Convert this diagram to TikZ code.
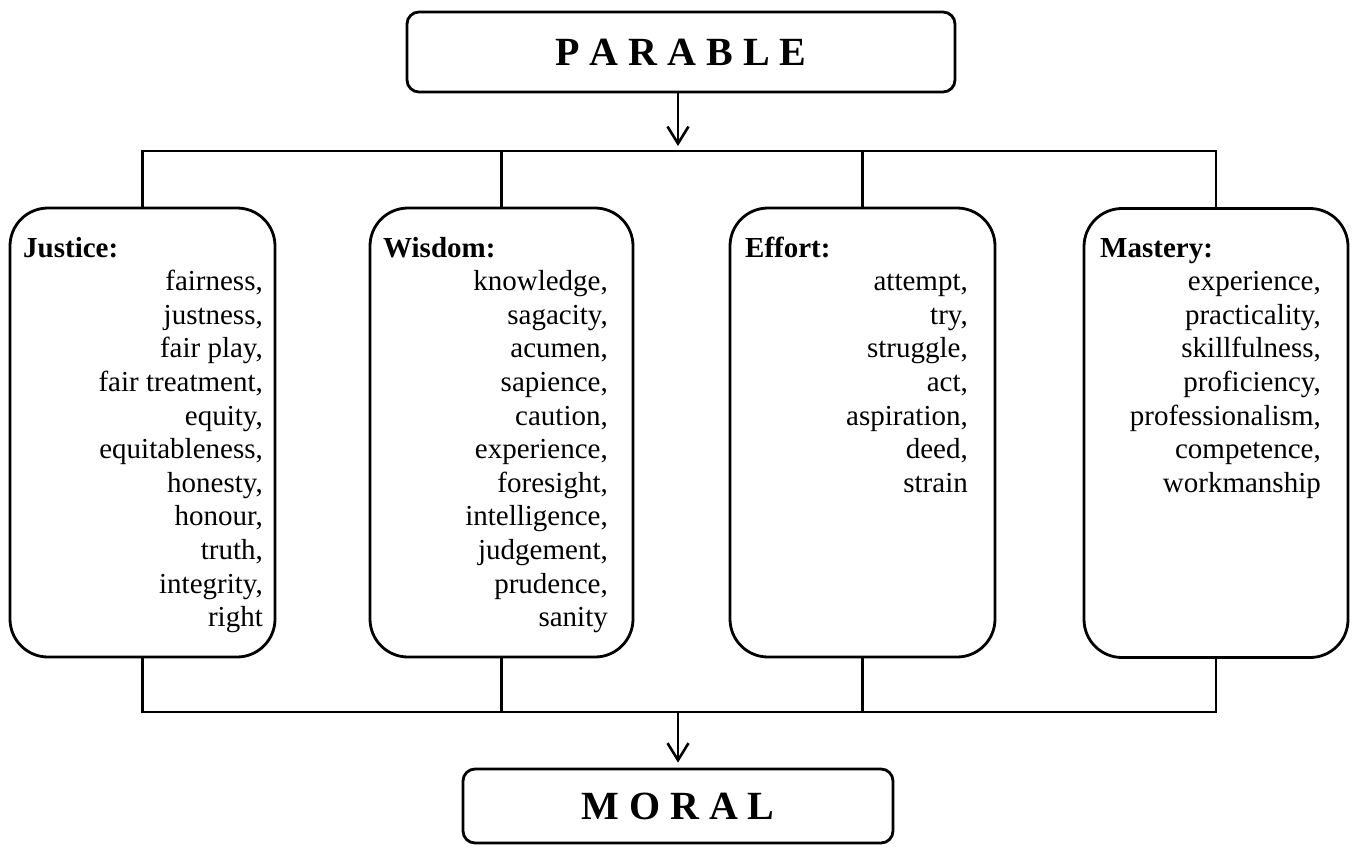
\documentclass[tikz,border=0pt]{standalone}
\usepackage{fontspec}
\setmainfont{Liberation Serif}
\usetikzlibrary{arrows.meta}

\begin{document}
\begin{tikzpicture}[x=1pt,y=-1pt,
      every node/.style={inner sep=0pt},
      title/.style={draw, line width=2.8pt, rounded corners=12pt, font=\fontsize{40}{48}\selectfont\bfseries},
      group/.style={draw, line width=2.8pt, rounded corners=38pt, minimum width=265pt, minimum height=449pt},
      head/.style={anchor=base west, font=\fontsize{29}{34}\selectfont\bfseries},
      item/.style={anchor=base east, font=\fontsize{29}{34}\selectfont},
      link/.style={line width=2.6pt},
      flow/.style={link, -{Straight Barb[length=17pt,width=21pt]}, shorten >=5pt}]
      \useasboundingbox (0,0) rectangle (1357,847);
      % top and bottom
      \node [title, minimum width=548pt, minimum height=80pt] (parable) at (681,52) {P A R A B L E};
      \node [title, minimum width=430pt, minimum height=74pt] (moral) at (678,806) {M O R A L};
      \coordinate (split) at (678,151);
      \coordinate (join) at (678,712);
      % the four groups
      \node [group] (justice) at (142.5,432.5) {};
      \node [group, minimum width=263pt] (wisdom) at (501.5,432.5) {};
      \node [group] (effort) at (862.5,432.5) {};
      \node [group, minimum width=264pt] (mastery) at (1216,433) {};
      \node [head] (justice-h) at (23,257) {Justice:};
      \foreach \w [count=\i] in {{fairness,},{justness,},{fair play,},{fair treatment,},{equity,},{equitableness,},{honesty,},{honour,},{truth,},{integrity,},{right}}
        \node [item] (justice-\i) at (263,257+\i*33.6) {\w};
      \node [head] (wisdom-h) at (383,257) {Wisdom:};
      \foreach \w [count=\i] in {{knowledge,},{sagacity,},{acumen,},{sapience,},{caution,},{experience,},{foresight,},{intelligence,},{judgement,},{prudence,},{sanity}}
        \node [item] (wisdom-\i) at (608,257+\i*33.6) {\w};
      \node [head] (effort-h) at (745,257) {Effort:};
      \foreach \w [count=\i] in {{attempt,},{try,},{struggle,},{act,},{aspiration,},{deed,},{strain}}
        \node [item] (effort-\i) at (968,257+\i*33.6) {\w};
      \node [head] (mastery-h) at (1100,257) {Mastery:};
      \foreach \w [count=\i] in {{experience,},{practicality,},{skillfulness,},{proficiency,},{professionalism,},{competence,},{workmanship}}
        \node [item] (mastery-\i) at (1321,257+\i*33.6) {\w};
      % connectors
      \draw [flow] (parable.south -| split) -- (split);
      \draw [link] (justice.north) -- (justice.north |- split) -- (mastery.north |- split) -- (mastery.north);
      \draw [link] (wisdom.north) -- (wisdom.north |- split);
      \draw [link] (effort.north) -- (effort.north |- split);
      \draw [link] (justice.south) -- (justice.south |- join) -- (mastery.south |- join) -- (mastery.south);
      \draw [link] (wisdom.south) -- (wisdom.south |- join);
      \draw [link] (effort.south) -- (effort.south |- join);
      \draw [flow] (join) -- (moral.north);
\end{tikzpicture}
\end{document}
